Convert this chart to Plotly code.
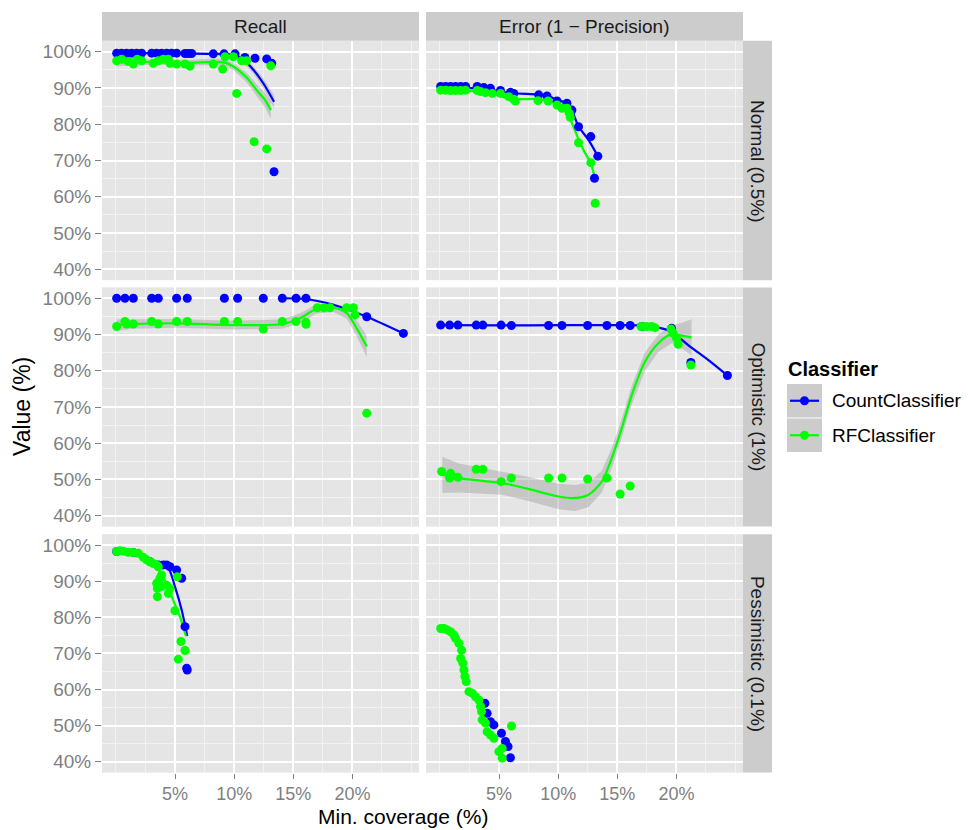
import plotly.graph_objects as go

# ---------------- data (percent) ----------------
x_tick_vals = [5, 10, 15, 20]
x_tick_labels = ["5%", "10%", "15%", "20%"]
x_minor_vals = [0, 2.5, 7.5, 12.5, 17.5, 22.5, 25]
y_tick_vals = [40, 50, 60, 70, 80, 90, 100]
y_tick_labels = ["40%", "50%", "60%", "70%", "80%", "90%", "100%"]
y_minor_vals = [45, 55, 65, 75, 85, 95]

col_labels = ["Recall", "Error (1 \u2212 Precision)"]
row_labels = ["Normal (0.5%)", "Optimistic (1%)", "Pessimistic (0.1%)"]
classifiers = ["CountClassifier", "RFClassifier"]

# Normal / Recall
nr_count_x = [0.06, 0.48, 0.9, 1.33, 1.75, 2.17, 3.02, 3.44, 3.86, 4.29, 4.71, 5.13, 5.84, 6.12, 6.4, 8.23, 9.14, 10.07, 10.91, 11.76, 12.75, 13.17, 13.37]
nr_count_y = [99.6, 99.6, 99.6, 99.6, 99.6, 99.6, 99.6, 99.6, 99.6, 99.6, 99.6, 99.6, 99.5, 99.5, 99.5, 99.4, 99.4, 99.4, 98.4, 98.2, 98.0, 96.8, 66.9]
nr_rf_x = [0.06, 0.48, 1.04, 1.47, 1.8, 2.17, 3.16, 3.58, 4.0, 4.43, 4.57, 5.13, 5.84, 6.26, 8.23, 9.02, 9.22, 9.93, 10.21, 10.63, 11.05, 11.68, 12.75, 13.09]
nr_rf_y = [97.5, 97.9, 97.3, 96.6, 97.9, 97.5, 96.8, 97.5, 97.9, 97.9, 96.8, 96.6, 96.6, 96.0, 96.6, 95.2, 98.6, 98.6, 88.5, 97.5, 97.5, 75.2, 73.2, 96.1]
nr_count_fit_x = [0.06, 2, 4, 6, 8.23, 9.93, 10.77, 11.62, 12.46, 13.37]
nr_count_fit_y = [99.6, 99.6, 99.6, 99.5, 99.4, 99.1, 97.9, 95.0, 91.3, 86.2]
nr_count_fit_se = [0.4, 0.3, 0.3, 0.3, 0.4, 0.6, 0.8, 1.0, 1.3, 1.8]
nr_rf_fit_x = [0.06, 2, 4, 6, 8.23, 9.22, 9.93, 11.05, 11.9, 12.6, 13.09]
nr_rf_fit_y = [97.3, 97.2, 97.1, 96.9, 97.2, 97.0, 95.9, 92.9, 89.4, 86.7, 83.9]
nr_rf_fit_se = [1.3, 0.9, 0.8, 0.8, 0.9, 0.9, 1.0, 1.3, 1.6, 2.0, 2.4]

# Normal / Error
ne_count_x = [0.06, 0.48, 0.9, 1.32, 1.75, 2.17, 3.15, 3.71, 4.27, 5.12, 5.96, 6.24, 8.35, 9.05, 9.9, 10.74, 11.16, 11.72, 12.76, 13.35, 13.07]
ne_count_y = [90.4, 90.4, 90.4, 90.4, 90.4, 90.4, 90.4, 90.1, 89.9, 89.3, 88.8, 88.5, 88.1, 87.8, 86.4, 85.8, 83.9, 79.3, 76.6, 71.2, 65.1]
ne_rf_x = [0.06, 0.48, 0.9, 1.32, 1.75, 2.17, 3.15, 3.43, 3.85, 4.42, 5.12, 5.82, 6.24, 6.38, 8.29, 9.14, 9.9, 10.32, 10.74, 10.94, 11.02, 11.72, 12.76, 13.13]
ne_rf_y = [89.4, 89.4, 89.3, 89.3, 89.3, 89.4, 89.3, 89.0, 88.7, 88.5, 88.5, 87.6, 86.9, 86.4, 86.5, 86.4, 85.3, 84.4, 84.4, 83.0, 81.9, 74.9, 69.4, 58.2]
ne_count_fit_x = [0.06, 2, 4, 6, 8.3, 9.1, 9.9, 10.7, 11.2, 11.7, 12.6, 13.35]
ne_count_fit_y = [90.3, 90.1, 89.6, 88.6, 88.2, 87.8, 86.7, 85.8, 83.5, 79.5, 75.5, 71.2]
ne_count_fit_se = [0.3, 0.2, 0.2, 0.2, 0.2, 0.2, 0.2, 0.3, 0.3, 0.4, 0.5, 0.6]
ne_rf_fit_x = [0.06, 2, 4, 6, 8.3, 9.9, 10.7, 11.2, 11.7, 12.2, 12.76, 13.07]
ne_rf_fit_y = [89.4, 89.3, 88.8, 87.0, 86.9, 85.6, 83.0, 80.0, 76.0, 72.5, 69.2, 65.5]
ne_rf_fit_se = [0.3, 0.2, 0.2, 0.2, 0.2, 0.2, 0.3, 0.3, 0.4, 0.5, 0.6, 0.7]

# Optimistic / Recall
or_count_x = [0.06, 0.76, 1.47, 3.02, 3.58, 5.13, 6.03, 9.17, 10.29, 12.46, 14.07, 15.23, 16.07, 21.21, 24.31]
or_count_y = [100, 100, 100, 100, 100, 100, 100, 100, 100, 100, 100, 100, 100, 94.9, 90.3]
or_rf_x = [0.06, 0.76, 0.9, 1.47, 3.02, 3.58, 5.13, 6.03, 9.17, 10.29, 12.46, 14.07, 15.23, 16.07, 16.07, 17.03, 17.6, 18.1, 19.51, 20.08, 20.22, 21.21]
or_rf_y = [92.2, 93.6, 92.9, 92.9, 93.6, 92.9, 93.6, 93.6, 93.6, 93.6, 91.5, 93.6, 93.6, 93.4, 92.8, 97.4, 97.4, 97.4, 97.4, 97.4, 95.4, 68.3]
or_count_fit_x = [14.07, 16.07, 18.39, 21.21, 24.31]
or_count_fit_y = [100, 99.8, 98.2, 94.9, 90.3]
or_count_fit_se = [0.2, 0.2, 0.2, 0.2, 0.2]
or_rf_fit_x = [0.06, 1.47, 5.13, 9.93, 14.07, 15.57, 16.98, 18.39, 19.51, 20.36, 21.21]
or_rf_fit_y = [92.6, 92.9, 93.1, 92.6, 92.9, 94.5, 97.1, 97.4, 95.9, 91.7, 86.7]
or_rf_fit_se = [1.6, 1.3, 1.2, 1.2, 1.3, 1.4, 1.3, 1.2, 1.5, 2.2, 3.0]

# Optimistic / Error
oe_count_x = [0.06, 0.82, 1.52, 3.07, 3.63, 5.17, 6.04, 9.19, 10.32, 12.49, 14.12, 15.24, 16.09, 17.07, 19.59, 21.22, 24.31]
oe_count_y = [92.6, 92.6, 92.6, 92.6, 92.6, 92.6, 92.5, 92.5, 92.5, 92.5, 92.5, 92.5, 92.5, 92.2, 91.7, 82.3, 78.7]
oe_rf_x = [0.14, 0.9, 0.82, 1.52, 3.07, 3.63, 5.17, 6.04, 9.19, 10.32, 12.49, 14.12, 15.24, 16.09, 17.01, 17.48, 17.9, 18.18, 19.54, 19.73, 20.01, 20.15, 21.22]
oe_rf_y = [52.2, 51.7, 50.4, 50.6, 52.8, 52.8, 49.4, 50.4, 50.4, 50.4, 50.1, 50.4, 46.0, 48.2, 92.2, 92.2, 92.2, 91.9, 91.5, 90.3, 89.0, 87.3, 81.6]
oe_count_fit_x = [0.06, 5, 10, 15, 17, 18.47, 19.59, 20.99, 22.68, 24.31]
oe_count_fit_y = [92.6, 92.5, 92.6, 92.6, 92.5, 91.9, 90.8, 87.1, 83.0, 78.7]
oe_count_fit_se = [0.2, 0.2, 0.2, 0.2, 0.2, 0.2, 0.2, 0.3, 0.3, 0.4]
oe_rf_fit_x = [0.2, 1.61, 5.26, 7.23, 10.04, 11.44, 12.57, 13.69, 14.53, 15.37, 16.22, 17.34, 18.47, 19.59, 20.44, 21.28]
oe_rf_fit_y = [51.3, 50.4, 49.0, 47.6, 45.3, 44.9, 45.8, 49.4, 55.9, 64.1, 73.3, 82.5, 87.6, 90.1, 89.7, 89.2]
oe_rf_fit_se = [5.0, 4.0, 3.2, 3.3, 3.5, 3.6, 3.4, 3.0, 2.8, 2.6, 2.6, 2.6, 2.4, 2.5, 3.5, 5.0]

# Pessimistic / Recall
pr_count_x = [0.06, 1.47, 2.88, 3.58, 4.0, 4.29, 4.57, 5.13, 5.56, 5.84, 5.98, 6.03]
pr_count_y = [98.2, 97.9, 95.4, 94.5, 94.5, 94.5, 94.0, 93.1, 90.8, 77.4, 65.9, 65.4]
pr_rf_x = [0.06, 0.34, 0.62, 1.04, 1.47, 1.89, 2.31, 2.59, 2.88, 3.16, 3.44, 3.58, 3.86, 3.72, 3.44, 3.5, 3.5, 3.86, 4.29, 4.57, 4.43, 4.99, 5.19, 5.5, 5.84, 5.27]
pr_rf_y = [98.2, 98.4, 98.3, 98.0, 97.9, 97.7, 96.6, 95.9, 95.4, 94.9, 94.5, 94.0, 91.7, 90.8, 89.4, 88.0, 85.7, 88.5, 88.9, 88.0, 86.6, 81.8, 91.2, 73.3, 70.8, 68.4]
pr_count_fit_x = [0.06, 2.03, 3.58, 4.43, 4.99, 5.56, 6.03]
pr_count_fit_y = [98.3, 97.4, 94.9, 93.6, 88.5, 82.0, 74.8]
pr_count_fit_se = [0.2, 0.2, 0.2, 0.3, 0.4, 0.5, 0.6]
pr_rf_fit_x = [0.06, 2.03, 3.16, 4.0, 4.71, 5.41, 5.92]
pr_rf_fit_y = [98.3, 97.2, 94.9, 91.2, 85.7, 80.2, 74.8]
pr_rf_fit_se = [0.2, 0.2, 0.2, 0.3, 0.4, 0.5, 0.6]

# Pessimistic / Error
pe_count_x = [3.8, 3.99, 4.28, 4.56, 5.2, 5.54, 5.76, 5.96]
pe_count_y = [56.2, 53.4, 51.1, 50.2, 47.9, 45.6, 44.2, 41.1]
pe_rf_x = [0.06, 0.34, 0.62, 0.9, 1.18, 1.32, 1.6, 1.83, 1.75, 1.94, 2.03, 2.11, 2.22, 2.45, 2.73, 3.01, 3.29, 3.43, 3.52, 3.57, 3.85, 3.99, 4.28, 4.56, 4.98, 5.26, 5.26, 6.05]
pe_rf_y = [76.9, 76.9, 76.5, 76.0, 75.1, 74.2, 72.8, 70.9, 68.6, 67.3, 65.4, 63.6, 62.2, 59.4, 59.0, 58.0, 57.1, 55.3, 53.9, 51.6, 50.7, 48.3, 47.4, 46.5, 42.8, 43.7, 41.0, 49.9]

# ---------------- assembly ----------------
BLUE = "#0000FF"
GREEN = "#00FF00"
FONT = "Liberation Sans, Arial, Helvetica, sans-serif"
W, H = 968, 830

panels = [
    (1, 1, (nr_count_x, nr_count_y), (nr_rf_x, nr_rf_y),
     (nr_count_fit_x, nr_count_fit_y, nr_count_fit_se), (nr_rf_fit_x, nr_rf_fit_y, nr_rf_fit_se)),
    (1, 2, (ne_count_x, ne_count_y), (ne_rf_x, ne_rf_y),
     (ne_count_fit_x, ne_count_fit_y, ne_count_fit_se), (ne_rf_fit_x, ne_rf_fit_y, ne_rf_fit_se)),
    (2, 1, (or_count_x, or_count_y), (or_rf_x, or_rf_y),
     (or_count_fit_x, or_count_fit_y, or_count_fit_se), (or_rf_fit_x, or_rf_fit_y, or_rf_fit_se)),
    (2, 2, (oe_count_x, oe_count_y), (oe_rf_x, oe_rf_y),
     (oe_count_fit_x, oe_count_fit_y, oe_count_fit_se), (oe_rf_fit_x, oe_rf_fit_y, oe_rf_fit_se)),
    (3, 1, (pr_count_x, pr_count_y), (pr_rf_x, pr_rf_y),
     (pr_count_fit_x, pr_count_fit_y, pr_count_fit_se), (pr_rf_fit_x, pr_rf_fit_y, pr_rf_fit_se)),
    (3, 2, (pe_count_x, pe_count_y), (pe_rf_x, pe_rf_y), None, None),
]

# pixel layout
col_px = [(102, 419), (426, 743)]
row_px = [(40.8, 280.2), (287.4, 526.6), (534.2, 772.6)]
strip_top = (12, 40.8)
strip_right = (743, 772)


def px(x):
    return x / W


def py(y):
    return 1 - y / H


fig = go.Figure()
layout = dict(
    width=W, height=H, margin=dict(l=0, r=0, t=0, b=0),
    paper_bgcolor="white", plot_bgcolor="#E5E5E5", showlegend=False,
    font=dict(family=FONT),
)

for (r, c, cnt, rf, cnt_fit, rf_fit) in panels:
    i = (r - 1) * 2 + c
    xa = "x" if i == 1 else f"x{i}"
    ya = "y" if i == 1 else f"y{i}"
    xkey = "xaxis" if i == 1 else f"xaxis{i}"
    ykey = "yaxis" if i == 1 else f"yaxis{i}"
    layout[xkey] = dict(
        domain=[px(col_px[c - 1][0]), px(col_px[c - 1][1])], anchor=ya,
        range=[-1.18, 25.63], tickvals=x_tick_vals, ticktext=x_tick_labels,
        showticklabels=(r == 3), ticks="outside" if r == 3 else "",
        ticklen=5, tickwidth=1.3, tickcolor="#7F7F7F", ticklabelstandoff=0,
        tickfont=dict(size=18, color="#7F7F7F", family=FONT),
        showgrid=True, gridcolor="white", gridwidth=2, zeroline=False, showline=False,
        minor=dict(tickvals=x_minor_vals, showgrid=True, gridcolor="#F2F2F2", gridwidth=1, ticks=""),
        fixedrange=True,
    )
    layout[ykey] = dict(
        domain=[py(row_px[r - 1][1]), py(row_px[r - 1][0])], anchor=xa,
        range=[37, 103], tickvals=y_tick_vals, ticktext=y_tick_labels,
        showticklabels=(c == 1), ticks="outside" if c == 1 else "",
        ticklen=6, tickwidth=1.3, tickcolor="#7F7F7F",
        tickfont=dict(size=19, color="#7F7F7F", family=FONT),
        showgrid=True, gridcolor="white", gridwidth=2, zeroline=False, showline=False,
        minor=dict(tickvals=y_minor_vals, showgrid=True, gridcolor="#F2F2F2", gridwidth=1, ticks=""),
        fixedrange=True,
    )

    # ribbons
    for fit in (cnt_fit, rf_fit):
        if fit is None:
            continue
        fx, fy, se = fit
        lo = [v - s for v, s in zip(fy, se)]
        hi = [v + s for v, s in zip(fy, se)]
        fig.add_trace(go.Scatter(
            x=list(fx) + list(fx)[::-1], y=lo + hi[::-1], xaxis=xa, yaxis=ya,
            mode="lines", fill="toself", fillcolor="rgba(153,153,153,0.4)",
            line=dict(width=0), hoverinfo="skip"))
    # fit lines
    for fit, col in ((cnt_fit, BLUE), (rf_fit, GREEN)):
        if fit is None:
            continue
        fx, fy, se = fit
        fig.add_trace(go.Scatter(
            x=fx, y=fy, xaxis=xa, yaxis=ya, mode="lines",
            line=dict(color=col, width=2.2, shape="spline", smoothing=0.8)))
    # points
    for pts, col, name in ((cnt, BLUE, classifiers[0]), (rf, GREEN, classifiers[1])):
        fig.add_trace(go.Scatter(
            x=pts[0], y=pts[1], xaxis=xa, yaxis=ya, mode="markers", name=name,
            marker=dict(color=col, size=9, line=dict(width=0))))

shapes = []
annotations = []
# top strips
for c in range(2):
    x0, x1 = col_px[c]
    shapes.append(dict(type="rect", xref="paper", yref="paper",
                       x0=px(x0), x1=px(x1), y0=py(strip_top[1]), y1=py(strip_top[0]),
                       fillcolor="#CCCCCC", line=dict(width=0), layer="below"))
    annotations.append(dict(text=col_labels[c], xref="paper", yref="paper",
                            x=px((x0 + x1) / 2), y=py((strip_top[0] + strip_top[1]) / 2),
                            showarrow=False, xanchor="center", yanchor="middle",
                            font=dict(size=19, color="#1A1A1A", family=FONT)))
# right strips
for r in range(3):
    y0, y1 = row_px[r]
    shapes.append(dict(type="rect", xref="paper", yref="paper",
                       x0=px(strip_right[0]), x1=px(strip_right[1]), y0=py(y1), y1=py(y0),
                       fillcolor="#CCCCCC", line=dict(width=0), layer="below"))
    annotations.append(dict(text=row_labels[r], xref="paper", yref="paper",
                            x=px((strip_right[0] + strip_right[1]) / 2), y=py((y0 + y1) / 2),
                            showarrow=False, xanchor="center", yanchor="middle", textangle=90,
                            font=dict(size=19, color="#1A1A1A", family=FONT)))

# axis titles
annotations.append(dict(text="Value (%)", xref="paper", yref="paper", x=px(22), y=py(407),
                        showarrow=False, textangle=-90, xanchor="center", yanchor="middle",
                        font=dict(size=23, color="black", family=FONT)))
annotations.append(dict(text="Min. coverage (%)", xref="paper", yref="paper", x=px(403), y=py(830),
                        showarrow=False, xanchor="center", yanchor="bottom",
                        font=dict(size=21, color="black", family=FONT)))

# legend (drawn manually)
annotations.append(dict(text="<b>Classifier</b>", xref="paper", yref="paper", x=px(786), y=py(369),
                        showarrow=False, xanchor="left", yanchor="middle",
                        font=dict(size=20, color="black", family=FONT)))
key_rows = [(384, 417.5), (418.5, 452)]
for k, (name, col) in enumerate(zip(classifiers, (BLUE, GREEN))):
    y0, y1 = key_rows[k]
    yc = (y0 + y1) / 2
    shapes.append(dict(type="rect", xref="paper", yref="paper", x0=px(787), x1=px(822),
                       y0=py(y1), y1=py(y0), fillcolor="#CCCCCC", line=dict(width=0)))
    shapes.append(dict(type="line", xref="paper", yref="paper", x0=px(790), x1=px(819),
                       y0=py(yc), y1=py(yc), line=dict(color=col, width=2.2)))
    shapes.append(dict(type="circle", xref="paper", yref="paper", x0=px(800), x1=px(809),
                       y0=py(yc + 4.5), y1=py(yc - 4.5), fillcolor=col, line=dict(width=0)))
    annotations.append(dict(text=name, xref="paper", yref="paper", x=px(830), y=py(yc),
                            showarrow=False, xanchor="left", yanchor="middle",
                            font=dict(size=19, color="black", family=FONT)))

layout["shapes"] = shapes
layout["annotations"] = annotations
fig.update_layout(**layout)
fig.write_html("out.html")
